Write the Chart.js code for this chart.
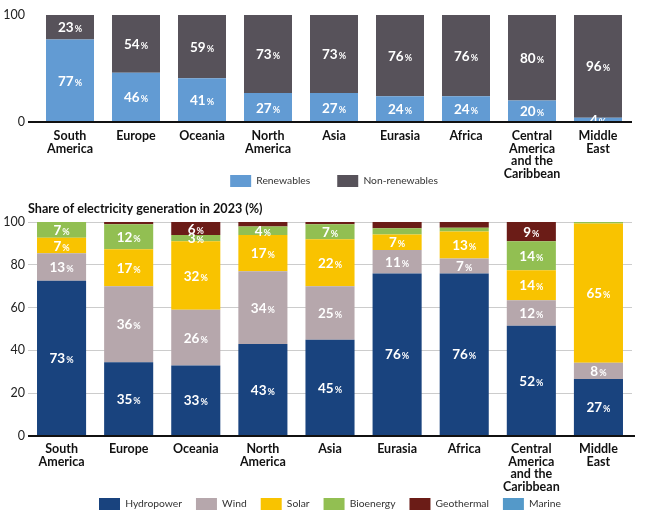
<!DOCTYPE html>
<html>
<head>
<meta charset="utf-8">
<script src="https://cdn.jsdelivr.net/npm/chart.js"></script>
<style>
  html, body { margin: 0; padding: 0; background: #fff; }
  body { width: 659px; height: 520px; position: relative; overflow: hidden; }
  .box { position: absolute; left: 0; width: 659px; }
  #topBox { top: 0; height: 197px; }
  #bottomBox { top: 193px; height: 327px; }
</style>
</head>
<body>
<div class="box" id="topBox"><canvas id="shareChart"></canvas></div>
<div class="box" id="bottomBox"><canvas id="mixChart"></canvas></div>
<script>
// Regions (same order in both charts)
const regions = [['South', 'America'], 'Europe', 'Oceania', ['North', 'America'], 'Asia',
    'Eurasia', 'Africa', ['Central', 'America', 'and the', 'Caribbean'], ['Middle', 'East']];

// Top chart: renewables vs non-renewables (%)
const renewables = [77, 46, 41, 27, 27, 24, 24, 20, 4];
const nonRenewables = [23, 54, 59, 73, 73, 76, 76, 80, 96];

// Bottom chart: share of electricity generation in 2023 (%)
const hydropower = [72.6, 34.5, 33, 43, 45, 76, 76, 51.5, 26.6];
const wind = [12.8, 35.5, 26, 34, 25, 11, 7, 12, 7.7];
const solar = [7.3, 17.3, 32, 17, 22, 7.2, 12.6, 14, 65];
const bioenergy = [7.3, 11.7, 3, 4, 7, 2.9, 1.8, 13.5, 0.7];
const geothermal = [0, 1, 6, 2, 1, 2.9, 2.6, 9, 0];
const marine = [0, 0, 0, 0, 0, 0, 0, 0, 0];

const FONT = 'Lato';

// white "NN%" labels with a smaller percent sign
const pctLabels = {
    id: 'pctLabels',
    afterDatasetsDraw(chart, args, opts) {
        const ctx = chart.ctx;
        ctx.save();
        ctx.fillStyle = '#fff';
        ctx.textBaseline = 'alphabetic';
        chart.data.datasets.forEach((ds, i) => {
            const meta = chart.getDatasetMeta(i);
            meta.data.forEach((bar, j) => {
                const v = ds.data[j];
                if (v < opts.min) return;
                const num = String(Math.round(v));
                const c = bar.getCenterPoint();
                ctx.font = 'bold 13.5px ' + FONT;
                const w1 = ctx.measureText(num).width;
                ctx.font = 'bold 9px ' + FONT;
                const w2 = ctx.measureText('%').width;
                const x0 = c.x - (w1 + w2 + 1) / 2;
                const yb = c.y + 5;
                ctx.font = 'bold 13.5px ' + FONT;
                ctx.fillText(num, x0, yb);
                ctx.font = 'bold 9px ' + FONT;
                ctx.fillText('%', x0 + w1 + 1, yb);
            });
        });
        ctx.restore();
    }
};

// black zero line, a bit longer than the plot area
const baseline = {
    id: 'baseline',
    afterDatasetsDraw(chart, args, opts) {
        const ctx = chart.ctx;
        const area = chart.chartArea;
        const y = chart.scales.y.getPixelForValue(0);
        ctx.save();
        ctx.strokeStyle = '#111';
        ctx.lineWidth = 2;
        ctx.beginPath();
        ctx.moveTo(area.left - opts.left, y);
        ctx.lineTo(area.right + opts.right, y);
        ctx.stroke();
        ctx.restore();
    }
};

// category labels may run down beside the legend, so don't clip them to the axis box
const unclipTicks = {
    id: 'unclipTicks',
    afterLayout(chart) {
        chart.scales.x.bottom = chart.height;
    }
};

const tickFont = { family: FONT, size: 12.5 };
const catFont = { family: FONT, size: 12.5, weight: 'bold', lineHeight: 1.0 };
const legendLabels = (pad) => ({
    font: { family: FONT, size: 10.3 },
    color: '#333',
    boxWidth: 21,
    boxHeight: 12,
    padding: pad
});

new Chart(document.getElementById('shareChart'), {
    type: 'bar',
    data: {
        labels: regions,
        datasets: [{
            label: 'Renewables',
            data: renewables,
            backgroundColor: '#629bd3'
        }, {
            label: 'Non-renewables',
            data: nonRenewables,
            backgroundColor: '#57525a'
        }]
    },
    options: {
        responsive: true,
        maintainAspectRatio: false,
        animation: false,
        layout: { padding: { top: 15, right: 28, left: 0, bottom: 0 } },
        datasets: { bar: { categoryPercentage: 1, barPercentage: 48 / 66 } },
        scales: {
            x: {
                stacked: true,
                grid: { display: false, drawTicks: false },
                border: { display: false },
                ticks: { font: catFont, color: '#111', padding: 8, maxRotation: 0, autoSkip: false },
                afterFit: (s) => { s.height = 26; }
            },
            y: {
                stacked: true,
                min: 0,
                max: 100,
                grid: { display: false, drawTicks: false },
                border: { display: false },
                ticks: { stepSize: 100, font: tickFont, color: '#222', padding: 12 },
                // tick padding would otherwise push the plot top down
                afterFit: (s) => { s.width = 37; s.paddingTop = 0; }
            }
        },
        plugins: {
            legend: { position: 'bottom', fullSize: false, labels: legendLabels(27) },
            tooltip: { enabled: false },
            pctLabels: { min: 1 },
            baseline: { left: 9, right: 1 }
        }
    },
    plugins: [pctLabels, baseline, unclipTicks]
});

new Chart(document.getElementById('mixChart'), {
    type: 'bar',
    data: {
        labels: regions,
        datasets: [
            { label: 'Hydropower', data: hydropower, backgroundColor: '#19437e' },
            { label: 'Wind', data: wind, backgroundColor: '#b6a7ac' },
            { label: 'Solar', data: solar, backgroundColor: '#f9c300' },
            { label: 'Bioenergy', data: bioenergy, backgroundColor: '#92bf52' },
            { label: 'Geothermal', data: geothermal, backgroundColor: '#6b1c17' },
            { label: 'Marine', data: marine, backgroundColor: '#5499c9' }
        ]
    },
    options: {
        responsive: true,
        maintainAspectRatio: false,
        animation: false,
        layout: { padding: { top: 0, right: 27, left: 0, bottom: 0 } },
        datasets: { bar: { categoryPercentage: 1, barPercentage: 49 / 67 } },
        scales: {
            x: {
                stacked: true,
                grid: { display: false, drawTicks: false },
                border: { display: false },
                ticks: { font: catFont, color: '#111', padding: 7, maxRotation: 0, autoSkip: false },
                afterFit: (s) => { s.height = 48; }
            },
            y: {
                stacked: true,
                min: 0,
                max: 100,
                grid: { color: '#cccccc', lineWidth: 1, drawTicks: false },
                border: { display: false },
                ticks: { stepSize: 20, font: tickFont, color: '#222', padding: 3 },
                afterFit: (s) => { s.width = 28; }
            }
        },
        plugins: {
            title: {
                display: true,
                text: 'Share of electricity generation in 2023 (%)',
                align: 'start',
                fullSize: false,
                color: '#111',
                font: { family: FONT, size: 12.6, weight: 'bold', lineHeight: 1.2 },
                padding: { top: 8, bottom: 6 }
            },
            legend: { position: 'bottom', fullSize: false, labels: legendLabels(14) },
            tooltip: { enabled: false },
            pctLabels: { min: 3 },
            baseline: { left: 0, right: 3 }
        }
    },
    plugins: [pctLabels, baseline, unclipTicks]
});
</script>
</body>
</html>
